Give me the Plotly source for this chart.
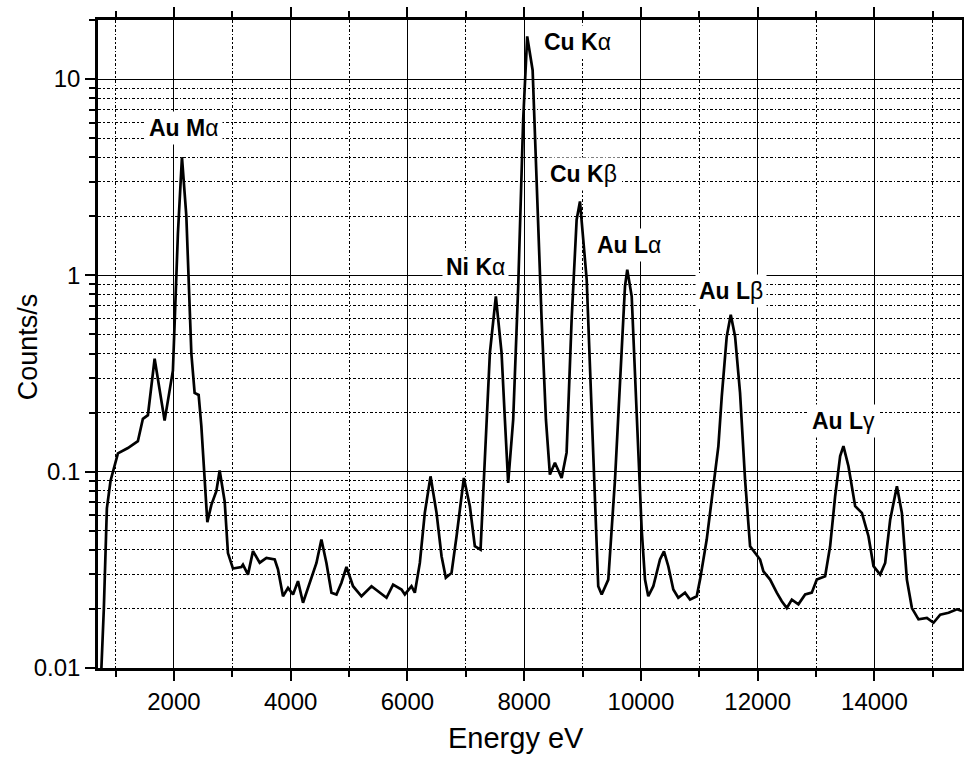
import plotly.graph_objects as go

# EDX spectrum: photon energy (eV) and count rate (counts/s)
energy_ev = [
    745, 800, 852, 915, 1041, 1212, 1383, 1469, 1555, 1670, 1841, 1983, 2069, 2138,
    2213, 2299, 2355, 2424, 2470, 2527, 2573, 2642, 2727, 2784, 2870, 2926, 3012,
    3156, 3183, 3269, 3355, 3470, 3585, 3727, 3783, 3869, 3955, 4041, 4126, 4212,
    4327, 4442, 4527, 4613, 4699, 4785, 4870, 4956, 5069, 5213, 5385, 5527, 5642,
    5755, 5899, 5956, 6070, 6127, 6213, 6298, 6396, 6499, 6585, 6658, 6756, 6842,
    6967, 7070, 7155, 7253, 7327, 7356, 7413, 7515, 7613, 7670, 7726, 7812, 7898,
    7983, 8052, 8145, 8213, 8299, 8373, 8441, 8527, 8642, 8727, 8813, 8899, 8956,
    9071, 9156, 9213, 9269, 9328, 9441, 9556, 9641, 9727, 9766, 9842, 9927, 10013,
    10070, 10126, 10212, 10327, 10395, 10469, 10555, 10640, 10755, 10841, 10956,
    11013, 11127, 11241, 11327, 11385, 11470, 11539, 11613, 11698, 11784, 11870,
    11955, 12041, 12098, 12213, 12327, 12413, 12499, 12585, 12698, 12813, 12927,
    13013, 13155, 13241, 13327, 13413, 13469, 13555, 13670, 13785, 13898, 13984,
    14098, 14184, 14270, 14385, 14470, 14556, 14642, 14755, 14899, 15012, 15127,
    15270, 15413, 15499,
]
counts_per_s = [
    0.008, 0.0201, 0.065, 0.0899, 0.124, 0.132, 0.143, 0.186, 0.194, 0.376, 0.182,
    0.327, 1.64, 4.0, 2.01, 0.40, 0.252, 0.246, 0.171, 0.0973, 0.0553, 0.0678,
    0.0796, 0.1014, 0.0705, 0.0385, 0.0321, 0.0327, 0.0336, 0.0299, 0.0394, 0.0344,
    0.0364, 0.0357, 0.0318, 0.0232, 0.0256, 0.0237, 0.0277, 0.0215, 0.0272, 0.0343,
    0.0451, 0.0343, 0.0242, 0.0237, 0.0272, 0.0327, 0.0261, 0.0232, 0.0261, 0.0242,
    0.0228, 0.0266, 0.0251, 0.0237, 0.0261, 0.0242, 0.0343, 0.0617, 0.0947, 0.0617,
    0.0371, 0.0288, 0.0305, 0.0469, 0.0929, 0.0667, 0.0417, 0.0401, 0.111, 0.184,
    0.403, 0.782, 0.403, 0.184, 0.0877, 0.184, 0.879, 6.21, 16.5, 11.1, 2.84, 0.595,
    0.184, 0.0967, 0.111, 0.0929, 0.125, 0.595, 1.92, 2.38, 0.951, 0.199, 0.0617,
    0.0261, 0.0237, 0.0282, 0.0912, 0.294, 0.879, 1.07, 0.782, 0.199, 0.0507,
    0.0282, 0.0232, 0.0261, 0.0357, 0.0393, 0.033, 0.0251, 0.0228, 0.0242, 0.0223,
    0.0232, 0.0282, 0.0451, 0.086, 0.135, 0.242, 0.489, 0.631, 0.489, 0.252,
    0.0912, 0.0417, 0.0386, 0.0357, 0.0311, 0.0282, 0.0242, 0.0219, 0.0202, 0.0223,
    0.0211, 0.0237, 0.0242, 0.0282, 0.0293, 0.0417, 0.075, 0.12, 0.135, 0.1066,
    0.0667, 0.0617, 0.0469, 0.033, 0.0299, 0.0343, 0.057, 0.0843, 0.0617, 0.0282,
    0.0202, 0.0177, 0.018, 0.017, 0.0187, 0.0191, 0.0199, 0.0195,
]

# Emission line labels: element, line, Greek suffix
line_names = ["Au M", "Ni K", "Cu K", "Cu K", "Au L", "Au L", "Au L"]
line_greek = ["α", "α", "α", "β", "α", "β", "γ"]
# label anchor (eV, log10 counts/s)
label_x = [2167, 7173, 8913, 9024, 9795, 11544, 13464]
label_y = [0.752, 0.044, 1.187, 0.518, 0.156, -0.078, -0.740]

x_tick_vals = [2000, 4000, 6000, 8000, 10000, 12000, 14000]
x_tick_text = ["2000", "4000", "6000", "8000", "10000", "12000", "14000"]
y_tick_vals = [0.01, 0.1, 1, 10]
y_tick_text = ["0.01", "0.1", "1", "10"]
# intermediate log-decade ticks (2..9 of each decade)
y_minor_vals = [m * d for d in (0.01, 0.1, 1) for m in range(2, 10)] + [20]

x_title = "Energy eV"
y_title = "Counts/s"

FONT = "Liberation Sans, Arial, sans-serif"
DOT = "3px,2px,1.5px,2px"

fig = go.Figure()
fig.add_trace(go.Scatter(
    x=energy_ev, y=counts_per_s, mode="lines",
    line=dict(color="black", width=2.7),
    showlegend=False, hoverinfo="skip",
))

for name, greek, lx, ly in zip(line_names, line_greek, label_x, label_y):
    fig.add_annotation(
        x=lx, y=ly, xref="x", yref="y",
        text=f"<b>{name}</b>{greek}",
        showarrow=False, bgcolor="white", borderpad=3,
        font=dict(family=FONT, size=23, color="black"),
    )

# axis titles placed as free text so they sit where the frame needs them
fig.add_annotation(
    x=0.484, y=-0.108, xref="paper", yref="paper", text=x_title,
    showarrow=False, xanchor="center", yanchor="middle",
    font=dict(family=FONT, size=29, color="black"),
)
fig.add_annotation(
    x=-0.081, y=0.495, xref="paper", yref="paper", text=y_title,
    showarrow=False, xanchor="center", yanchor="middle", textangle=-90,
    font=dict(family=FONT, size=27, color="black"),
)

fig.update_xaxes(
    range=[700, 15500], tickvals=x_tick_vals, ticktext=x_tick_text,
    automargin=False,
    showline=True, linecolor="black", linewidth=2.5, mirror="ticks",
    ticks="outside", ticklen=10, tickwidth=1.5, tickcolor="black",
    showgrid=True, gridcolor="black", gridwidth=1.4,
    minor=dict(dtick=1000, tick0=0, ticks="outside", ticklen=6, tickwidth=1.5,
               tickcolor="black", showgrid=True, gridcolor="black",
               gridwidth=1.3, griddash=DOT),
    tickfont=dict(family=FONT, size=24, color="black"),
    zeroline=False,
)
fig.update_yaxes(
    type="log", range=[-2, 1.301], tickvals=y_tick_vals, ticktext=y_tick_text,
    automargin=False,
    showline=True, linecolor="black", linewidth=2.5, mirror="ticks",
    ticks="outside", ticklen=10, tickwidth=1.5, tickcolor="black",
    showgrid=True, gridcolor="black", gridwidth=1.4,
    minor=dict(tickvals=y_minor_vals, ticks="outside", ticklen=6, tickwidth=1.5,
               tickcolor="black", showgrid=True, gridcolor="black",
               gridwidth=1.3, griddash=DOT),
    tickfont=dict(family=FONT, size=24, color="black"),
    zeroline=False,
)

fig.update_layout(
    width=964, height=757,
    margin=dict(l=98, r=2, t=20, b=89),
    paper_bgcolor="white", plot_bgcolor="white",
    font=dict(family=FONT, color="black"),
)

fig.write_html("out.html")
